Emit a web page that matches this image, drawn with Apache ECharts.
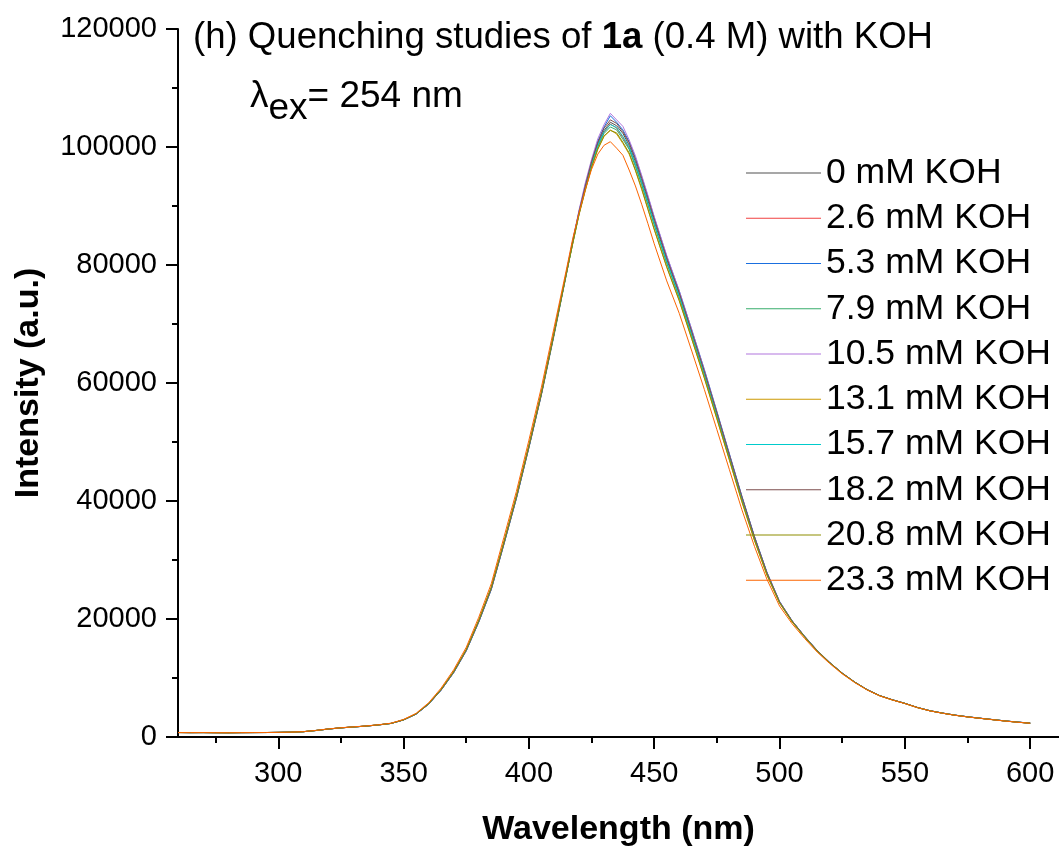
<!DOCTYPE html>
<html>
<head>
<meta charset="utf-8">
<script src="https://cdn.jsdelivr.net/npm/echarts@6/dist/echarts.min.js"></script>
<style>html,body{margin:0;padding:0;background:#fff;}#c{width:1059px;height:852px;}</style>
</head>
<body>
<div id="c"></div>
<script>
// Wavelength (nm)
const wavelengths = [260,265,270,275,280,285,290,295,300,305,310,315,320,325,330,335,340,345,350,355,360,365,370,375,380,385,390,395,400,405,410,415,417.5,420,422.5,425,427.5,430,432.5,435,437.5,440,442.5,445,447.5,450,455,460,465,470,475,480,485,490,495,500,505,510,515,520,525,530,535,540,545,550,555,560,565,570,575,580,585,590,595,600];

const seriesNames = ['0 mM KOH','2.6 mM KOH','5.3 mM KOH','7.9 mM KOH','10.5 mM KOH','13.1 mM KOH','15.7 mM KOH','18.2 mM KOH','20.8 mM KOH','23.3 mM KOH'];
const seriesColors = ['#515151','#F14040','#1A6FDF','#37AD6B','#B177DE','#CC9900','#00CBCC','#7D4E4E','#8E8E00','#FB6501'];

const koh_0_0 = [770,740,745,735,725,745,750,765,785,825,905,1110,1340,1560,1710,1840,2060,2310,2880,3880,5550,7950,10900,14600,19500,25000,32600,40400,49000,58000,68000,78500,83900,88700,93300,97200,100600,102800,104200,103600,102300,100300,97500,94300,90900,87400,80900,75100,68600,61900,54900,47800,40600,33900,27800,22900,19700,17100,14700,12650,10850,9320,8030,7020,6320,5710,5020,4460,4060,3710,3430,3190,2960,2730,2530,2360];
const koh_2_6 = [750,745,760,725,730,735,755,760,775,815,895,1100,1360,1540,1700,1860,2040,2290,2920,3920,5620,8050,11050,14750,19700,25300,32900,40800,49400,58500,68400,78900,84100,89000,93100,97000,100200,102500,103900,103200,101600,99800,96900,93800,90300,86900,80400,74600,68100,61500,54600,47500,40400,33700,27700,22900,19600,17000,14600,12600,10780,9290,7990,6990,6290,5690,4990,4440,4040,3690,3410,3170,2940,2710,2510,2340];
const koh_5_3 = [760,735,750,740,715,740,745,755,780,820,900,1090,1350,1550,1690,1850,2050,2300,2890,3870,5560,7960,10920,14620,19480,25050,32650,40450,49100,58150,68300,78800,84000,89100,93600,97600,101000,103400,105300,104200,102900,100900,98200,95000,91600,88100,81500,75600,69000,62300,55200,48000,40800,34000,27900,23000,19700,17050,14650,12620,10820,9310,8010,7010,6310,5700,5010,4450,4050,3700,3420,3180,2950,2720,2520,2350];
const koh_7_9 = [755,750,740,735,720,745,750,760,780,825,900,1105,1355,1545,1705,1855,2055,2305,2905,3910,5610,8010,11010,14710,19620,25220,32820,40620,49250,58250,68250,78650,83700,88700,92900,96900,100000,102300,103400,102900,101300,99600,96700,93600,90200,86800,80300,74500,68000,61400,54500,47400,40300,33650,27650,22850,19620,17010,14610,12610,10810,9300,8000,7000,6300,5700,5000,4450,4050,3700,3420,3180,2950,2720,2520,2350];
const koh_10_5 = [765,745,755,730,725,740,750,760,785,820,900,1100,1345,1555,1700,1850,2045,2295,2885,3880,5570,7970,10950,14650,19550,25150,32750,40550,49150,58200,68350,78900,84200,89300,93900,97900,101400,103800,105700,104600,103500,101200,98500,95200,91800,88200,81600,75600,69000,62200,55100,47900,40700,33950,27850,22950,19700,17060,14660,12640,10840,9320,8020,7020,6320,5710,5010,4460,4060,3710,3430,3190,2960,2730,2530,2360];
const koh_13_1 = [750,740,750,730,720,740,750,760,780,820,900,1100,1350,1550,1700,1850,2050,2300,2910,3920,5640,8060,11080,14800,19750,25350,32950,40750,49350,58300,68300,78600,83600,88500,92600,96500,99600,101800,102900,102200,100600,98800,96000,92800,89400,86000,79600,73900,67400,60800,53900,46900,39800,33300,27400,22700,19500,16950,14560,12580,10790,9280,7990,6990,6290,5690,4990,4440,4040,3690,3410,3170,2940,2710,2510,2340];
const koh_15_7 = [760,740,750,730,720,740,750,760,780,820,900,1100,1350,1550,1700,1850,2050,2300,2900,3900,5600,8000,11000,14700,19600,25200,32800,40600,49200,58200,68200,78600,83800,88700,93000,97000,100300,102600,103800,103300,101800,100000,97100,94000,90600,87100,80600,74800,68300,61700,54700,47600,40500,33800,27750,22850,19650,17020,14620,12610,10810,9300,8000,7000,6300,5700,5000,4450,4050,3700,3420,3180,2950,2720,2520,2350];
const koh_18_2 = [760,745,745,735,725,740,750,760,780,820,900,1100,1350,1550,1700,1850,2050,2300,2895,3895,5590,7990,10990,14690,19590,25150,32750,40550,49150,58150,68250,78750,84000,89000,93400,97500,100800,103200,104600,104000,102600,100700,97900,94700,91300,87800,81200,75300,68700,62000,55000,47800,40700,33900,27800,22900,19680,17040,14640,12630,10830,9310,8010,7010,6310,5700,5000,4450,4050,3700,3420,3180,2950,2720,2520,2350];
const koh_20_8 = [755,740,750,730,720,740,750,760,780,820,900,1100,1355,1555,1705,1855,2055,2305,2920,3930,5650,8080,11100,14830,19780,25400,33000,40800,49400,58400,68400,78700,83700,88600,92700,96600,99700,101900,102800,102400,100800,99000,96100,93000,89500,86100,79700,74000,67500,60900,54000,47000,39900,33350,27450,22750,19550,16960,14570,12590,10790,9290,7990,6990,6290,5690,4990,4440,4040,3690,3410,3170,2940,2710,2510,2340];
const koh_23_3 = [750,740,750,730,720,740,750,760,785,825,910,1120,1370,1570,1720,1870,2080,2340,2980,4020,5800,8300,11400,15200,20300,26000,33800,41600,50300,59300,69300,79300,84500,88800,92800,96200,98800,100300,100900,99800,98600,96100,93400,90300,87000,83600,77300,71800,65400,58900,52100,45300,38500,32300,26700,22200,19200,16700,14400,12450,10700,9220,7950,6960,6270,5670,4980,4430,4030,3680,3400,3160,2930,2700,2500,2330];

const allValues = [koh_0_0,koh_2_6,koh_5_3,koh_7_9,koh_10_5,koh_13_1,koh_15_7,koh_18_2,koh_20_8,koh_23_3];

const xMajorTicks = [300,350,400,450,500,550,600];
const xMinorTicks = [275,325,375,425,475,525,575];

const FONT = '"Liberation Sans", Arial, sans-serif';

const chart = echarts.init(document.getElementById('c'), null, {renderer:'canvas'});

const series = seriesNames.map((name, k) => ({
  name: name,
  type: 'line',
  xAxisIndex: 0,
  yAxisIndex: 0,
  showSymbol: false,
  symbol: 'none',
  animation: false,
  lineStyle: {width: 1, color: seriesColors[k]},
  itemStyle: {color: seriesColors[k]},
  data: wavelengths.map((w, i) => [w, allValues[k][i]])
}));

const axisLineStyle = {color: '#000', width: 2};

chart.setOption({
  animation: false,
  backgroundColor: '#fff',
  color: seriesColors,
  title: [
    {
      left: 193, top: 17, padding: 0,
      text: '{n|(h) Quenching studies of }{b|1a}{n| (0.4 M) with KOH}',
      textStyle: {
        fontWeight: 'normal',
        rich: {
          n: {fontFamily: FONT, fontSize: 36.6, fontWeight: 'normal', color: '#000', lineHeight: 42},
          b: {fontFamily: FONT, fontSize: 36.6, fontWeight: 'bold', color: '#000', lineHeight: 42}
        }
      }
    }
  ],
  graphic: [
    {type: 'text', left: 250, top: 78, style: {text: 'λ', font: '37px "Liberation Sans", Arial, sans-serif', fill: '#000'}},
    {type: 'text', left: 268.5, top: 90, style: {text: 'ex', font: '37px "Liberation Sans", Arial, sans-serif', fill: '#000'}},
    {type: 'text', left: 307.5, top: 78, style: {text: '= 254 nm', font: '37px "Liberation Sans", Arial, sans-serif', fill: '#000'}}
  ],
  legend: {
    orient: 'vertical',
    left: 746,
    top: 155,
    padding: 0,
    itemGap: 9.25,
    itemWidth: 75,
    itemHeight: 1.2,
    icon: 'rect',
    selectedMode: false,
    data: seriesNames,
    textStyle: {fontFamily: FONT, fontSize: 35.5, color: '#000', lineHeight: 36}
  },
  grid: {left: 178, right: 0, top: 29, bottom: 115, containLabel: false},
  xAxis: [
    {
      type: 'value', min: 260, max: 611.5,
      position: 'bottom',
      name: 'Wavelength (nm)', nameLocation: 'middle', nameGap: 76,
      nameTextStyle: {fontFamily: FONT, fontSize: 34, fontWeight: 'bold', color: '#000'},
      axisLine: {show: true, lineStyle: axisLineStyle, onZero: false},
      axisTick: {show: true, inside: false, length: 12, lineStyle: axisLineStyle, customValues: xMajorTicks},
      axisLabel: {show: true, margin: 22, fontFamily: FONT, fontSize: 29, color: '#000', customValues: xMajorTicks},
      splitLine: {show: false}
    },
    {
      type: 'value', min: 260, max: 611.5,
      position: 'bottom',
      axisLine: {show: false},
      axisTick: {show: true, inside: false, length: 6, lineStyle: axisLineStyle, customValues: xMinorTicks},
      axisLabel: {show: false},
      splitLine: {show: false}
    }
  ],
  yAxis: {
    type: 'value', min: 0, max: 120000, interval: 20000,
    name: 'Intensity (a.u.)', nameLocation: 'middle', nameGap: 132,
    nameTextStyle: {fontFamily: FONT, fontSize: 34, fontWeight: 'bold', color: '#000'},
    axisLine: {show: true, lineStyle: axisLineStyle, onZero: false},
    axisTick: {show: true, inside: false, length: 12, lineStyle: axisLineStyle},
    minorTick: {show: true, splitNumber: 2, length: 6, lineStyle: axisLineStyle},
    axisLabel: {margin: 21, fontFamily: FONT, fontSize: 29, color: '#000', formatter: v => String(v)},
    splitLine: {show: false}
  },
  series: series
});
</script>
</body>
</html>
